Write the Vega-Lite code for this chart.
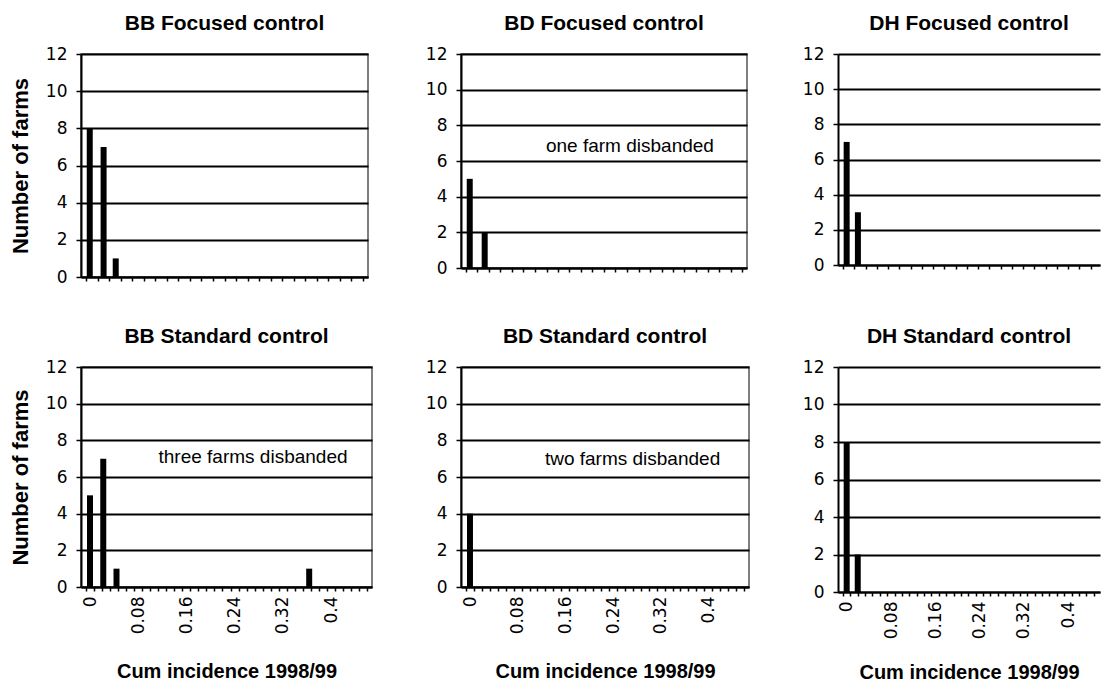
{
  "$schema": "https://vega.github.io/schema/vega-lite/v6.json",
  "padding": {"left": 8, "top": 12, "right": 0, "bottom": 0},
  "background": "white",
  "datasets": {
    "bars": [
      {"panel": "BB Focused control", "incidence": 0, "farms": 8},
      {"panel": "BB Focused control", "incidence": 0.024, "farms": 7},
      {"panel": "BB Focused control", "incidence": 0.045, "farms": 1},
      {"panel": "BD Focused control", "incidence": 0, "farms": 5},
      {"panel": "BD Focused control", "incidence": 0.026, "farms": 2},
      {"panel": "DH Focused control", "incidence": 0, "farms": 7},
      {"panel": "DH Focused control", "incidence": 0.02, "farms": 3},
      {"panel": "BB Standard control", "incidence": 0, "farms": 5},
      {"panel": "BB Standard control", "incidence": 0.022, "farms": 7},
      {"panel": "BB Standard control", "incidence": 0.044, "farms": 1},
      {"panel": "BB Standard control", "incidence": 0.364, "farms": 1},
      {"panel": "BD Standard control", "incidence": 0, "farms": 4},
      {"panel": "DH Standard control", "incidence": 0, "farms": 8},
      {"panel": "DH Standard control", "incidence": 0.02, "farms": 2}
    ],
    "notes": [
      {"panel": "BD Focused control", "incidence": 0.2786, "farms": 6.84, "note": "one farm disbanded"},
      {"panel": "BB Standard control", "incidence": 0.2707, "farms": 7.09, "note": "three farms disbanded"},
      {"panel": "BD Standard control", "incidence": 0.2729, "farms": 7.0, "note": "two farms disbanded"}
    ]
  },
  "columns": 3,
  "spacing": {"row": 90, "column": 89},
  "bounds": "flush",
  "align": "each",
  "concat": [
    {
      "width": 287, "height": 223,
      "title": "BB Focused control",
      "view": {"stroke": "#555", "strokeWidth": 1.5},
      "data": {"name": "bars"},
      "transform": [{"filter": "datum.panel === 'BB Focused control'"}],
      "mark": {"type": "bar", "size": 6, "color": "#000"},
      "encoding": {
        "x": {"field": "incidence", "type": "quantitative", "scale": {"domain": [-0.0065, 0.4735], "nice": false, "zero": false},
              "axis": {"labels": false, "title": null, "values": [-0.0065,0.0135,0.0335,0.0535,0.0735,0.0935,0.1135,0.1335,0.1535,0.1735,0.1935,0.2135,0.2335,0.2535,0.2735,0.2935,0.3135,0.3335,0.3535,0.3735,0.3935,0.4135,0.4335,0.4535,0.4735]}},
        "y": {"field": "farms", "type": "quantitative", "scale": {"domain": [0, 12], "nice": false},
              "axis": {"title": "Number of farms", "titleFontSize": 22, "values": [0,2,4,6,8,10,12]}}
      }
    },
    {
      "width": 286, "height": 214,
      "title": "BD Focused control",
      "view": {"stroke": "#555", "strokeWidth": 1.5},
      "encoding": {
        "x": {"field": "incidence", "type": "quantitative", "scale": {"domain": [-0.0065, 0.4735], "nice": false, "zero": false},
              "axis": {"labels": false, "title": null, "values": [-0.0065,0.0135,0.0335,0.0535,0.0735,0.0935,0.1135,0.1335,0.1535,0.1735,0.1935,0.2135,0.2335,0.2535,0.2735,0.2935,0.3135,0.3335,0.3535,0.3735,0.3935,0.4135,0.4335,0.4535,0.4735]}},
        "y": {"field": "farms", "type": "quantitative", "scale": {"domain": [0, 12], "nice": false},
              "axis": {"title": null, "values": [0,2,4,6,8,10,12]}}
      },
      "layer": [
        {
          "data": {"name": "bars"},
          "transform": [{"filter": "datum.panel === 'BD Focused control'"}],
          "mark": {"type": "bar", "size": 6, "color": "#000"}
        },
        {
          "data": {"name": "notes"},
          "transform": [{"filter": "datum.panel === 'BD Focused control'"}],
          "mark": {"type": "text", "font": "Liberation Sans", "fontSize": 19, "color": "#000", "align": "center", "baseline": "middle"},
          "encoding": {"text": {"field": "note"}}
        }
      ]
    },
    {
      "width": 262, "height": 211,
      "title": "DH Focused control",
      "view": {"stroke": null},
      "data": {"name": "bars"},
      "transform": [{"filter": "datum.panel === 'DH Focused control'"}],
      "mark": {"type": "bar", "size": 6, "color": "#000"},
      "encoding": {
        "x": {"field": "incidence", "type": "quantitative", "scale": {"domain": [-0.0065, 0.4414], "nice": false, "zero": false},
              "axis": {"labels": false, "title": null, "values": [-0.0065,0.0135,0.0335,0.0535,0.0735,0.0935,0.1135,0.1335,0.1535,0.1735,0.1935,0.2135,0.2335,0.2535,0.2735,0.2935,0.3135,0.3335,0.3535,0.3735,0.3935,0.4135,0.4335]}},
        "y": {"field": "farms", "type": "quantitative", "scale": {"domain": [0, 12], "nice": false},
              "axis": {"title": null, "values": [0,2,4,6,8,10,12]}}
      }
    },
    {
      "width": 291, "height": 220,
      "title": "BB Standard control",
      "view": {"stroke": "#555", "strokeWidth": 1.5},
      "encoding": {
        "x": {"field": "incidence", "type": "quantitative", "scale": {"domain": [-0.0066667, 0.46], "nice": false, "zero": false},
              "axis": {"title": "Cum incidence 1998/99", "titlePadding": 28, "labelOffset": 4.16,
                       "labelExpr": "round((datum.value+0.0066667)*75) % 6 === 0 ? format(round((datum.value+0.0066667)*75)/75, '.2~f') : ''",
                       "values": [-0.0066667,0.0066667,0.02,0.0333333,0.0466667,0.06,0.0733333,0.0866667,0.1,0.1133333,0.1266667,0.14,0.1533333,0.1666667,0.18,0.1933333,0.2066667,0.22,0.2333333,0.2466667,0.26,0.2733333,0.2866667,0.3,0.3133333,0.3266667,0.34,0.3533333,0.3666667,0.38,0.3933333,0.4066667,0.42,0.4333333,0.4466667,0.46]}},
        "y": {"field": "farms", "type": "quantitative", "scale": {"domain": [0, 12], "nice": false},
              "axis": {"title": "Number of farms", "titleFontSize": 22, "values": [0,2,4,6,8,10,12]}}
      },
      "layer": [
        {
          "data": {"name": "bars"},
          "transform": [{"filter": "datum.panel === 'BB Standard control'"}],
          "mark": {"type": "bar", "size": 6, "color": "#000"}
        },
        {
          "data": {"name": "notes"},
          "transform": [{"filter": "datum.panel === 'BB Standard control'"}],
          "mark": {"type": "text", "font": "Liberation Sans", "fontSize": 19, "color": "#000", "align": "center", "baseline": "middle"},
          "encoding": {"text": {"field": "note"}}
        }
      ]
    },
    {
      "width": 288, "height": 220,
      "title": "BD Standard control",
      "view": {"stroke": "#555", "strokeWidth": 1.5},
      "encoding": {
        "x": {"field": "incidence", "type": "quantitative", "scale": {"domain": [-0.0066667, 0.46], "nice": false, "zero": false},
              "axis": {"title": "Cum incidence 1998/99", "titlePadding": 28, "labelOffset": 4.11,
                       "labelExpr": "round((datum.value+0.0066667)*75) % 6 === 0 ? format(round((datum.value+0.0066667)*75)/75, '.2~f') : ''",
                       "values": [-0.0066667,0.0066667,0.02,0.0333333,0.0466667,0.06,0.0733333,0.0866667,0.1,0.1133333,0.1266667,0.14,0.1533333,0.1666667,0.18,0.1933333,0.2066667,0.22,0.2333333,0.2466667,0.26,0.2733333,0.2866667,0.3,0.3133333,0.3266667,0.34,0.3533333,0.3666667,0.38,0.3933333,0.4066667,0.42,0.4333333,0.4466667,0.46]}},
        "y": {"field": "farms", "type": "quantitative", "scale": {"domain": [0, 12], "nice": false},
              "axis": {"title": null, "values": [0,2,4,6,8,10,12]}}
      },
      "layer": [
        {
          "data": {"name": "bars"},
          "transform": [{"filter": "datum.panel === 'BD Standard control'"}],
          "mark": {"type": "bar", "size": 6, "color": "#000"}
        },
        {
          "data": {"name": "notes"},
          "transform": [{"filter": "datum.panel === 'BD Standard control'"}],
          "mark": {"type": "text", "font": "Liberation Sans", "fontSize": 19, "color": "#000", "align": "center", "baseline": "middle"},
          "encoding": {"text": {"field": "note"}}
        }
      ]
    },
    {
      "width": 262, "height": 225,
      "title": "DH Standard control",
      "view": {"stroke": null},
      "data": {"name": "bars"},
      "transform": [{"filter": "datum.panel === 'DH Standard control'"}],
      "mark": {"type": "bar", "size": 6, "color": "#000"},
      "encoding": {
        "x": {"field": "incidence", "type": "quantitative", "scale": {"domain": [-0.0066667, 0.449], "nice": false, "zero": false},
              "axis": {"title": "Cum incidence 1998/99", "labelOffset": 3.83,
                       "labelExpr": "round((datum.value+0.0066667)*75) % 6 === 0 ? format(round((datum.value+0.0066667)*75)/75, '.2~f') : ''",
                       "values": [-0.0066667,0.0066667,0.02,0.0333333,0.0466667,0.06,0.0733333,0.0866667,0.1,0.1133333,0.1266667,0.14,0.1533333,0.1666667,0.18,0.1933333,0.2066667,0.22,0.2333333,0.2466667,0.26,0.2733333,0.2866667,0.3,0.3133333,0.3266667,0.34,0.3533333,0.3666667,0.38,0.3933333,0.4066667,0.42,0.4333333,0.4466667]}},
        "y": {"field": "farms", "type": "quantitative", "scale": {"domain": [0, 12], "nice": false},
              "axis": {"title": null, "values": [0,2,4,6,8,10,12]}}
      }
    }
  ],
  "config": {
    "font": "Liberation Sans",
    "title": {"font": "Liberation Sans", "fontSize": 21, "fontWeight": "bold", "color": "#000", "offset": 11, "anchor": "middle"},
    "axis": {"domainColor": "#000", "domainWidth": 2, "tickColor": "#000", "tickWidth": 1.5,
             "labelFont": "DejaVu Sans", "labelFontSize": 17, "labelColor": "#000",
             "titleFont": "Liberation Sans", "titleFontSize": 20, "titleFontWeight": "bold", "titleColor": "#000"},
    "axisY": {"grid": true, "gridColor": "#000", "gridWidth": 2, "tickSize": 5, "labelPadding": 9, "titlePadding": 13},
    "axisX": {"grid": false, "tickSize": 4, "labelAngle": 270, "labelPadding": 5, "titlePadding": 24, "labelFlush": false, "labelOverlap": false, "labelBound": false}
  }
}
